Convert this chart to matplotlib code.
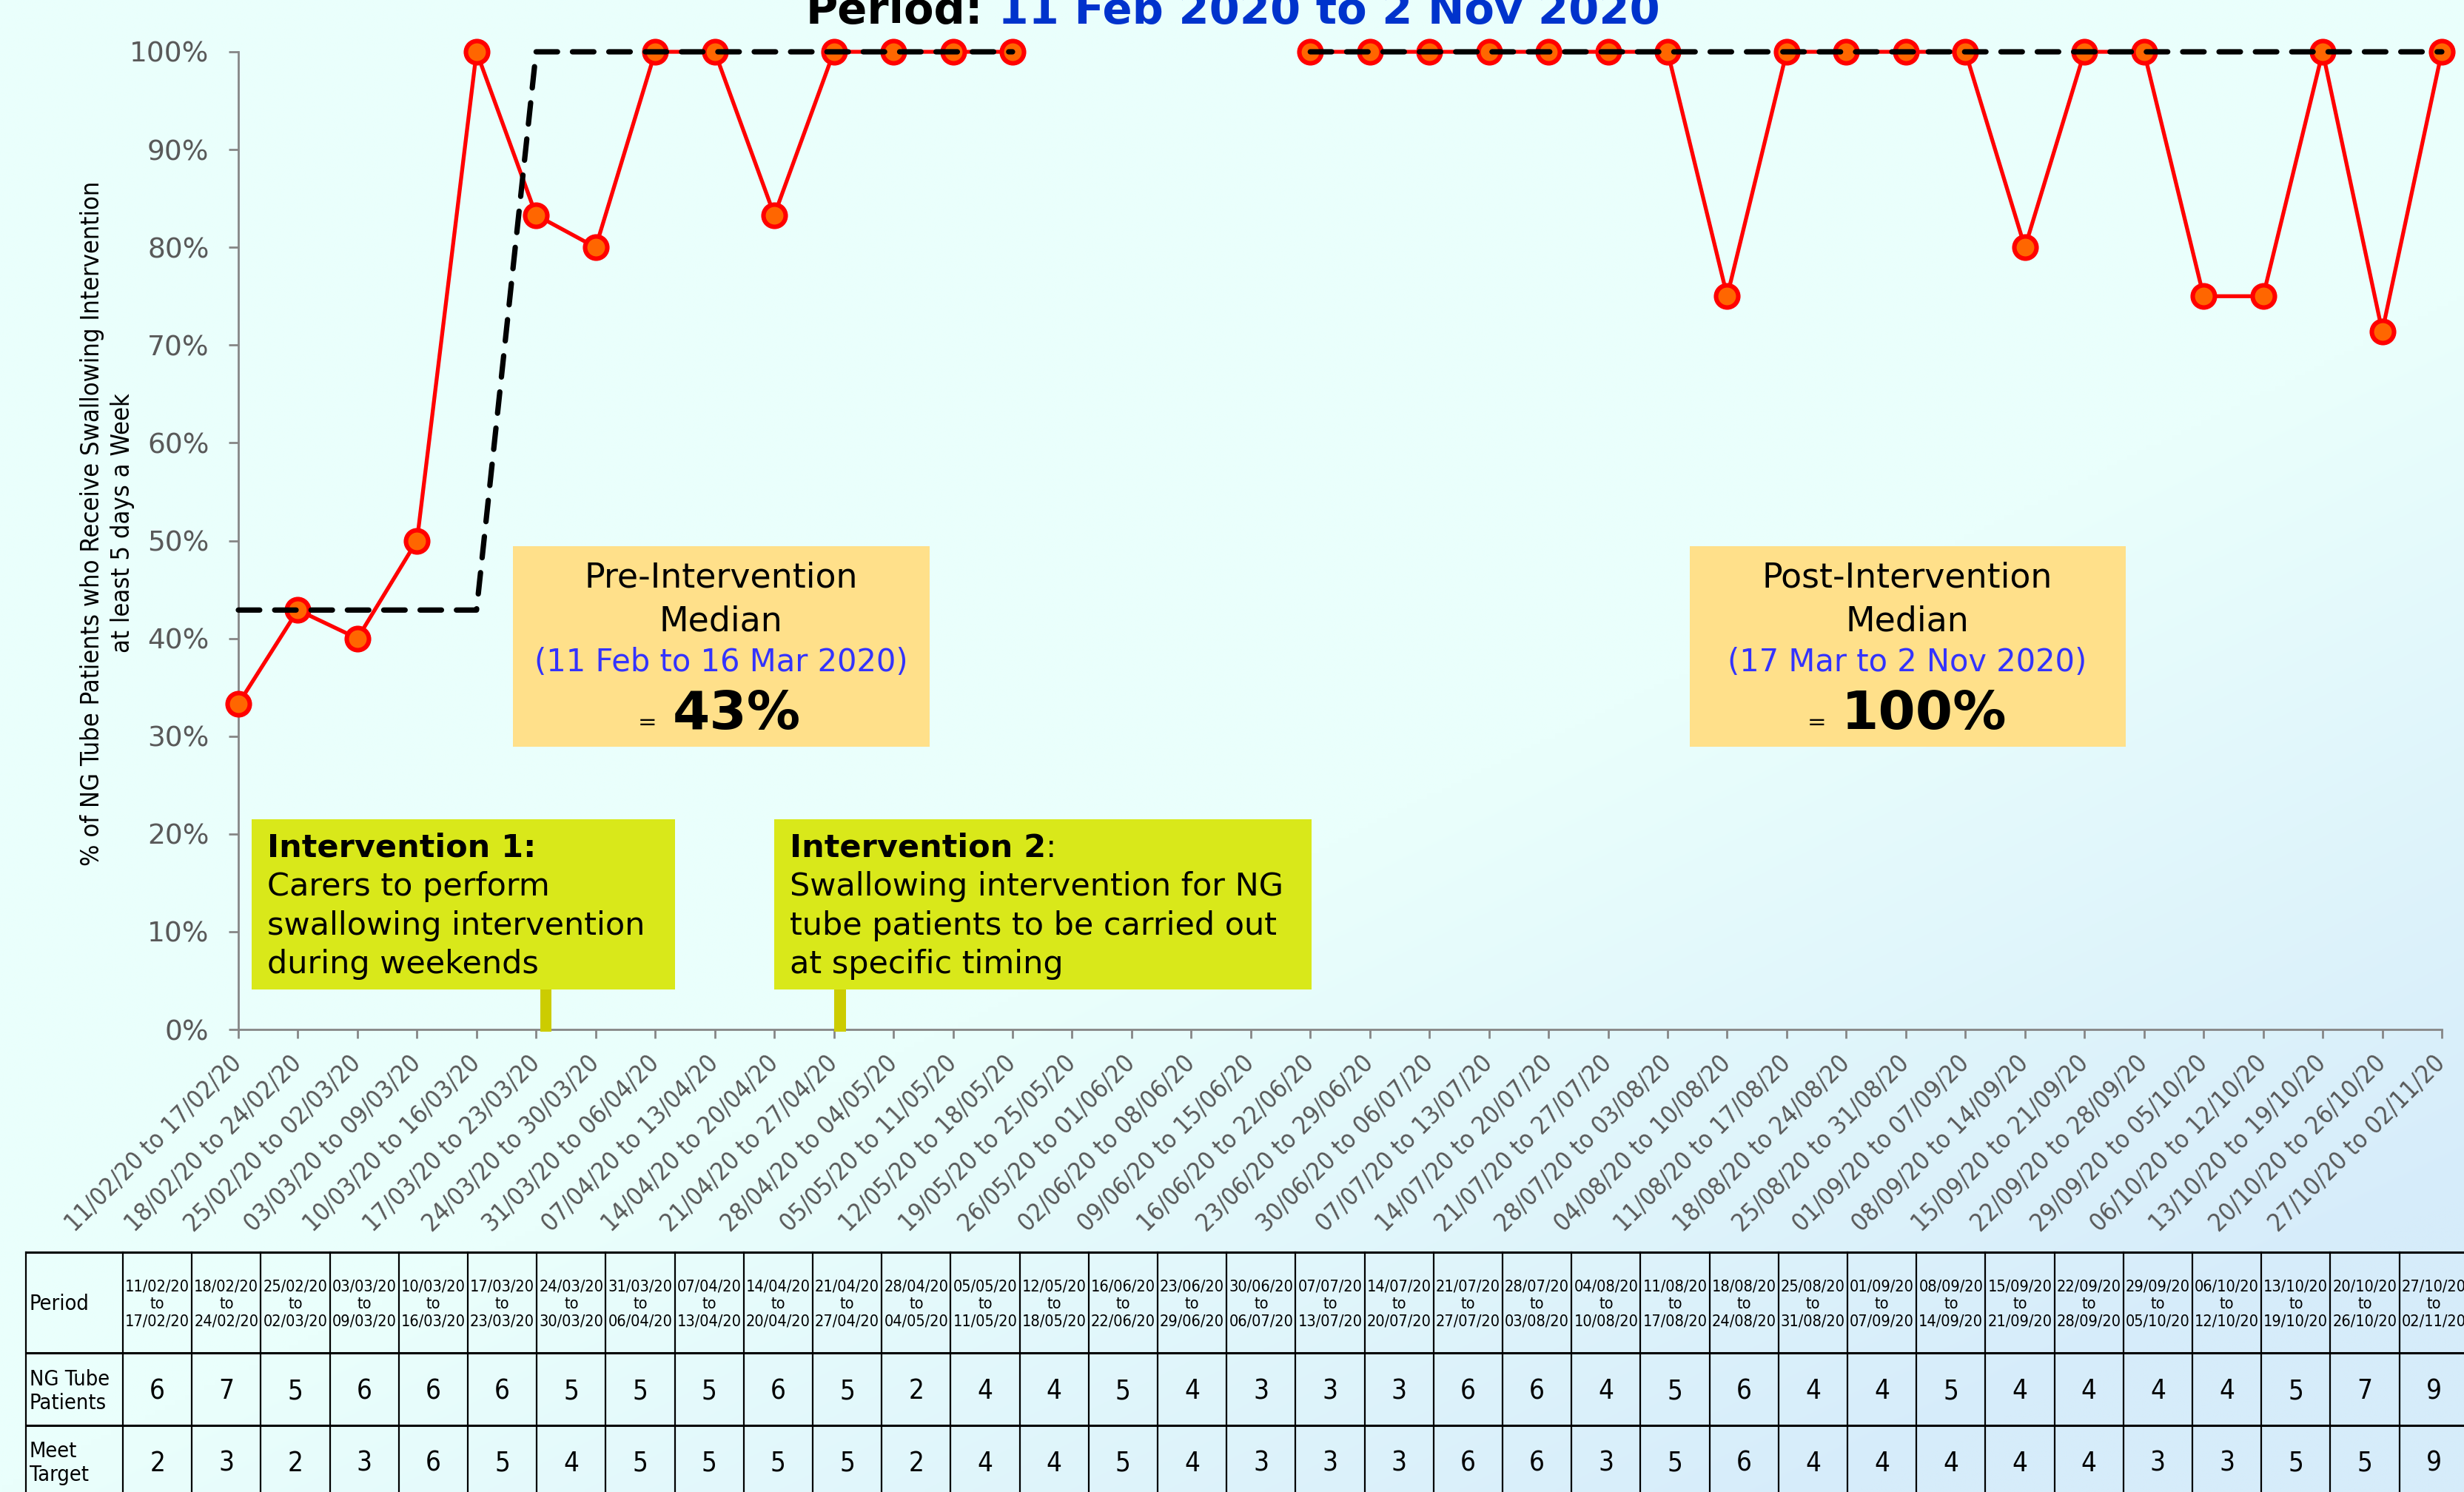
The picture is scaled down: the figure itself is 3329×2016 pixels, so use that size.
import numpy as np
import matplotlib
matplotlib.use('Agg')
import matplotlib.pyplot as plt
from matplotlib.patches import Rectangle
from matplotlib.colors import to_rgb
from matplotlib.text import Annotation

W, H, DPI = 3330, 2016, 200

# ---------------- data ----------------
week_start = ['11/02/20', '18/02/20', '25/02/20', '03/03/20', '10/03/20', '17/03/20', '24/03/20',
              '31/03/20', '07/04/20', '14/04/20', '21/04/20', '28/04/20', '05/05/20', '12/05/20',
              '19/05/20', '26/05/20', '02/06/20', '09/06/20', '16/06/20', '23/06/20', '30/06/20',
              '07/07/20', '14/07/20', '21/07/20', '28/07/20', '04/08/20', '11/08/20', '18/08/20',
              '25/08/20', '01/09/20', '08/09/20', '15/09/20', '22/09/20', '29/09/20', '06/10/20',
              '13/10/20', '20/10/20', '27/10/20']
week_end = ['17/02/20', '24/02/20', '02/03/20', '09/03/20', '16/03/20', '23/03/20', '30/03/20',
            '06/04/20', '13/04/20', '20/04/20', '27/04/20', '04/05/20', '11/05/20', '18/05/20',
            '25/05/20', '01/06/20', '08/06/20', '15/06/20', '22/06/20', '29/06/20', '06/07/20',
            '13/07/20', '20/07/20', '27/07/20', '03/08/20', '10/08/20', '17/08/20', '24/08/20',
            '31/08/20', '07/09/20', '14/09/20', '21/09/20', '28/09/20', '05/10/20', '12/10/20',
            '19/10/20', '26/10/20', '02/11/20']

nan = np.nan
pct_meet = [33.3, 42.9, 40.0, 50.0, 100, 83.3, 80.0, 100, 100, 83.3, 100, 100, 100, 100,
            nan, nan, nan, nan,
            100, 100, 100, 100, 100, 100, 100, 75.0, 100, 100, 100, 100, 80.0, 100, 100,
            75.0, 75.0, 100, 71.4, 100]
median_line = [42.9, 42.9, 42.9, 42.9, 42.9, 100, 100, 100, 100, 100, 100, 100, 100, 100,
               nan, nan, nan, nan,
               100, 100, 100, 100, 100, 100, 100, 100, 100, 100, 100, 100, 100, 100, 100,
               100, 100, 100, 100, 100]

# table (only weeks with data)
ng_patients = [6, 7, 5, 6, 6, 6, 5, 5, 5, 6, 5, 2, 4, 4, 5, 4, 3, 3, 3, 6, 6, 4,
               5, 6, 4, 4, 5, 4, 4, 4, 4, 5, 7, 9]
meet_target = [2, 3, 2, 3, 6, 5, 4, 5, 5, 5, 5, 2, 4, 4, 5, 4, 3, 3, 3, 6, 6, 3,
               5, 6, 4, 4, 4, 4, 4, 3, 3, 5, 5, 9]

# ---------------- figure ----------------
fig = plt.figure(figsize=(W / DPI, H / DPI), dpi=DPI)
COND = dict(family='DejaVu Sans', stretch='condensed')


def fx(px):
    return px / W


def fy(py):
    return 1 - py / H


# background gradient
bg = fig.add_axes([0, 0, 1, 1], zorder=-10)
bg.axis('off')
yy, xx = np.mgrid[0:1:300j, 0:1:500j]
t = np.clip((xx * 0.8 + yy * 1.0 - 1.0) / 0.6, 0, 1)
c1 = np.array(to_rgb('#EAFFFC'))
c2 = np.array(to_rgb('#D6ECFA'))
img = c1 * (1 - t[..., None]) + c2 * t[..., None]
bg.imshow(img, extent=[0, 1, 0, 1], aspect='auto', origin='upper', interpolation='bilinear')
bg.set_xlim(0, 1)
bg.set_ylim(0, 1)

# main axes
L, R, T, B = 322, 3299, 70, 1391
ax = fig.add_axes([fx(L), fy(B), fx(R) - fx(L), fy(T) - fy(B)])
ax.set_facecolor('none')
x = np.arange(len(week_start))
ax.plot(x, pct_meet, color='#FF0000', lw=1.9, marker='o', ms=10.8, mfc='#FF6600',
        mec='#FF0000', mew=2.2, clip_on=False, zorder=3)
ax.plot(x, median_line, color='black', lw=2.6, ls=(0, (4.0, 2.8)), dash_capstyle='round',
        clip_on=False, zorder=4)
ax.set_xlim(0, len(week_start) - 1)
ax.set_ylim(0, 100)
ax.set_yticks(np.arange(0, 101, 10))
ax.set_yticklabels([f'{v}%' for v in range(0, 101, 10)])
ax.set_xticks(x)
ax.set_xticklabels([f'{a} to {b}' for a, b in zip(week_start, week_end)],
                   rotation=45, ha='right', va='center', rotation_mode='anchor', **COND)
for s in ['top', 'right']:
    ax.spines[s].set_visible(False)
for s in ['left', 'bottom']:
    ax.spines[s].set_color('#868686')
    ax.spines[s].set_linewidth(1.0)
ax.tick_params(axis='y', length=4.7, width=1.0, color='#868686', pad=9.5,
               labelsize=13.5, labelcolor='#595959')
ax.tick_params(axis='x', length=4.3, width=1.0, color='#868686', pad=10.4,
               labelsize=12.1, labelcolor='#595959')

# y label
fig.text(fx(145), fy(707),
         '% of NG Tube Patients who Receive Swallowing Intervention\nat least 5 days a Week',
         rotation=90, ha='center', va='center', fontsize=12.4, linespacing=1.3,
         multialignment='center', color='black', **COND)

# title
t1 = fig.text(fx(1089), fy(32), 'Period:', fontsize=21.3, fontweight='bold',
              color='black', ha='left', va='baseline')
fig.add_artist(Annotation(' 11 Feb 2020 to 2 Nov 2020', xy=(1, 0), xycoords=t1,
                          ha='left', va='bottom', fontsize=21.3, fontweight='bold',
                          color='#0033CC', annotation_clip=False))


def rect(x0, y0, x1, y1, color):
    fig.patches.append(Rectangle((fx(x0), fy(y1)), fx(x1) - fx(x0), fy(y0) - fy(y1),
                                 transform=fig.transFigure, facecolor=color,
                                 edgecolor='none', zorder=1))


# median boxes
rect(693, 738, 1256, 1009, '#FFE08A')
rect(2283, 738, 2872, 1009, '#FFE08A')
for lab, cx, per, val, eqx, valx in [
        ('Pre-Intervention', 974, '(11 Feb to 16 Mar 2020)', '43%', 875, 995),
        ('Post-Intervention', 2577, '(17 Mar to 2 Nov 2020)', '100%', 2455, 2600)]:
    fig.text(fx(cx), fy(794), lab, ha='center', va='baseline', fontsize=16.5, zorder=5)
    fig.text(fx(cx), fy(853), 'Median', ha='center', va='baseline', fontsize=16.5, zorder=5)
    fig.text(fx(cx), fy(907), per, ha='center', va='baseline', fontsize=15, color='#3333FF', zorder=5)
    fig.text(fx(eqx), fy(985), '=', ha='center', va='baseline', fontsize=11, zorder=5)
    fig.text(fx(valx), fy(985), val, ha='center', va='baseline', fontsize=26,
             fontweight='bold', zorder=5)

# intervention boxes
rect(340, 1107, 912, 1337, '#D9E81A')
rect(1046, 1107, 1772, 1337, '#D9E81A')
rect(730, 1337, 745, 1394, '#CCCC00')
rect(1127, 1337, 1143, 1394, '#CCCC00')
base_y = [1158, 1210, 1263, 1315]
fig.text(fx(361), fy(base_y[0]), 'Intervention 1:', ha='left', va='baseline', fontsize=15.5,
         fontweight='bold', zorder=5)
for yb, line in zip(base_y[1:], ['Carers to perform', 'swallowing intervention',
                                  'during weekends']):
    fig.text(fx(361), fy(yb), line, ha='left', va='baseline', fontsize=15.5, zorder=5)
i2 = fig.text(fx(1067), fy(base_y[0]), 'Intervention 2', ha='left', va='baseline',
              fontsize=15.5, fontweight='bold', zorder=5)
fig.add_artist(Annotation(':', xy=(1, 0), xycoords=i2, ha='left', va='bottom',
                          fontsize=15.5, annotation_clip=False, zorder=6))
for yb, line in zip(base_y[1:], ['Swallowing intervention for NG',
                                  'tube patients to be carried out', 'at specific timing']):
    fig.text(fx(1067), fy(yb), line, ha='left', va='baseline', fontsize=15.5, zorder=5)

# ---------------- table ----------------
tab = fig.add_axes([0, 0, 1, 1], zorder=2)
tab.axis('off')
tab.set_xlim(0, W)
tab.set_ylim(H, 0)
have = [i for i, v in enumerate(pct_meet) if not np.isnan(v)]
col_x0, col_x1, col_w = 35, 166, 93.2
ncol = len(have)
rows_y = [1692, 1828, 1926, 2030]
x_right = col_x1 + ncol * col_w
for yv in rows_y:
    tab.plot([col_x0, x_right], [yv, yv], color='black', lw=1.1, clip_on=False)
for xv in [col_x0, col_x1] + [col_x1 + (k + 1) * col_w for k in range(ncol)]:
    tab.plot([xv, xv], [rows_y[0], rows_y[-1]], color='black', lw=0.8, clip_on=False)
tab.text(40, 1762, 'Period', ha='left', va='center', fontsize=10.4, **COND)
tab.text(40, 1880, 'NG Tube\nPatients', ha='left', va='center', fontsize=10.4,
         linespacing=1.15, **COND)
tab.text(40, 1977, 'Meet\nTarget', ha='left', va='center', fontsize=10.4,
         linespacing=1.15, **COND)
for k, i in enumerate(have):
    cxp = col_x1 + (k + 0.5) * col_w
    tab.text(cxp, 1762, f'{week_start[i]}\nto\n{week_end[i]}', ha='center', va='center',
             fontsize=7.8, linespacing=1.2, **COND)
    tab.text(cxp, 1880, str(ng_patients[k]), ha='center', va='center', fontsize=13.2, **COND)
    tab.text(cxp, 1977, str(meet_target[k]), ha='center', va='center', fontsize=13.2, **COND)

fig.savefig('out.png', dpi=DPI)
